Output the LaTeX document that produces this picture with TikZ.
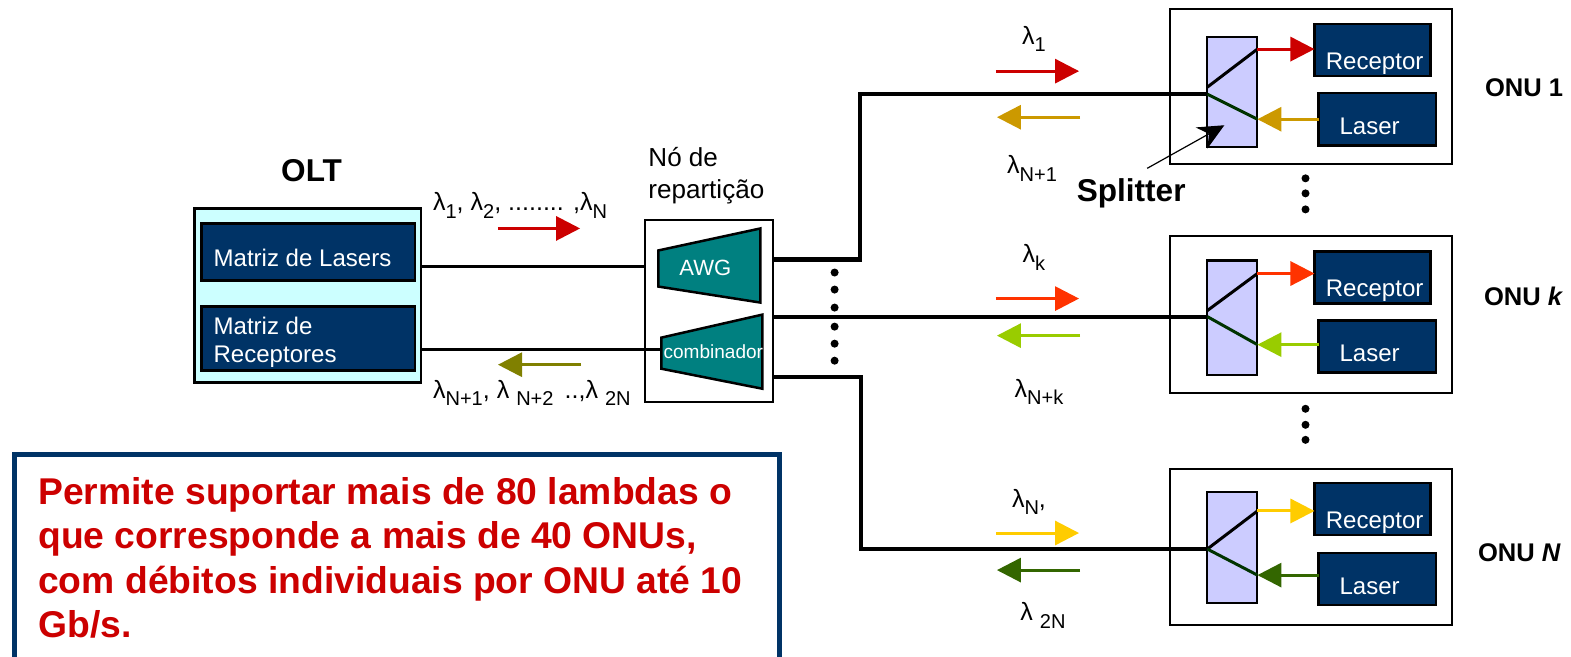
\documentclass[tikz,border=0pt]{standalone}
\usepackage{fontspec}
\setmainfont{Liberation Sans}
\usetikzlibrary{arrows.meta}
\definecolor{navyb}{HTML}{003366}
\definecolor{cyanb}{HTML}{CCFFFF}
\definecolor{tealb}{HTML}{008080}
\definecolor{lilac}{HTML}{CCCCFF}
\definecolor{redw}{HTML}{CC0000}
\definecolor{orangew}{HTML}{FF3300}
\definecolor{yellowg}{HTML}{FFCC00}
\definecolor{gold}{HTML}{CC9900}
\definecolor{lime}{HTML}{99CC00}
\definecolor{greenw}{HTML}{336600}
\definecolor{olive}{HTML}{808000}
\definecolor{darkg}{HTML}{003300}
\newcommand{\fs}[1]{\fontsize{#1}{#1}\selectfont}
\newcommand{\lam}[1]{λ\raisebox{-0.3em}{\fs{20}#1}}
\newcommand{\rectnode}[6]{%
  \pgfmathsetmacro{\rw}{#5-#3}\pgfmathsetmacro{\rh}{#6-#4}%
  \pgfmathsetmacro{\rx}{(#3+#5)/2}\pgfmathsetmacro{\ry}{(#4+#6)/2}%
  \node[#2,minimum width=\rw pt,minimum height=\rh pt] (#1) at (\rx,\ry) {};}
\tikzset{
  x=1pt,y=-1pt,
  plain/.style={draw=black,line width=2pt,inner sep=0pt,outer sep=0pt,rectangle},
  darkbox/.style={plain,fill=navyb,line width=2.5pt},
  whitetxt/.style={text=white,inner sep=0pt,font=\fs{24}},
  blacktxt/.style={text=black,inner sep=0pt,font=\fs{26}},
  boldtxt/.style={text=black,inner sep=0pt,font=\fs{25.5}\bfseries},
  lamtxt/.style={text=black,inner sep=0pt,font=\fs{25}},
  fibre/.style={draw=black,line width=4pt},
  thinfibre/.style={draw=black,line width=3pt},
  wave/.style={line width=3pt,-{Triangle[length=24pt,width=24pt]}},
  trap/.style={draw=black,line width=2.5pt,fill=tealb,line join=miter},
  dot/.style={circle,fill=black,inner sep=0pt,minimum size=8pt},
}
\begin{document}
\begin{tikzpicture}
\useasboundingbox (0,0) rectangle (1568,655);
% OLT
\rectnode{olt}{plain,fill=cyanb,line width=2.5pt}{194}{208}{420}{382}
\rectnode{mlaser}{darkbox}{201}{223}{414}{280}
\rectnode{mrec}{darkbox}{201}{306}{414}{370}
\node[whitetxt,anchor=west] (tlaser) at (213,257) {Matriz de Lasers};
\node[whitetxt,anchor=west,align=left] (trec) at (213,342) {Matriz de\\[4pt]Receptores};
\node[boldtxt,font=\fs{31.5}\bfseries] (toltt) at (311,170) {OLT};
% repartition node
\rectnode{rep}{plain}{644}{220}{772}{401}
\node[blacktxt,anchor=west,align=left] (trep) at (647,175) {Nó de\\[6pt]repartição};
\coordinate (awgL) at (657,266);
\coordinate (combL) at (660,349);
\draw[trap] (657,250) -- (759,228) -- (759,302) -- (657,286) -- cycle;
\draw[trap] (660,337) -- (761,314) -- (761,388) -- (660,368) -- cycle;
\node[text=white,inner sep=0pt,font=\fs{22}] (tawg) at (704,267) {AWG};
\node[text=white,inner sep=0pt,font=\fs{19}] (tcomb) at (712,351) {combinador};
% OLT to repartition
\draw[thinfibre] (olt.east |- 0,266) -- (rep.west |- 0,266);
\draw[thinfibre] (olt.east |- 0,349) -- (combL);
\draw[wave,redw] (497,228) -- (579,228);
\draw[wave,olive] (580,364) -- (497,364);
\node[lamtxt,anchor=west] (tdown) at (432,205) {\lam{1}, \lam{2}, ........ ,\lam{N}};
\node[lamtxt,anchor=west] (tup) at (432,392) {\lam{N+1}, λ \raisebox{-0.3em}{\fs{20}N+2} \,..,λ \raisebox{-0.3em}{\fs{20}2N}};
% ONUs
\foreach \n/\ba/\bb/\sa/\sb/\ra/\la/\fy/\ua/\uq/\da/\ca/\cb/\wa/\wb in {
  1/9/164/37/147/24/93/94/87/49/119/redw/gold/71/117,
  2/236/392/260/374/251/320/316/310/273/344/orangew/lime/298/335,
  3/468/624/491/602/482/552/548/548/510/574/yellowg/greenw/532/569}{
  \rectnode{onu\n}{plain}{1168}{\ba}{1449}{\bb}
  \rectnode{spl\n}{plain,fill=lilac}{1205}{\sa}{1255}{\sb}
  \pgfmathsetmacro{\rb}{\ra+52}\pgfmathsetmacro{\lb}{\la+52}
  \rectnode{rec\n}{darkbox}{1312}{\ra}{1428}{\rb}
  \rectnode{las\n}{darkbox}{1316}{\la}{1433}{\lb}
  \pgfmathsetmacro{\rt}{\ra+39.5}\pgfmathsetmacro{\lt}{\la+33}
  \node[whitetxt] (trec\n) at (1372,\rt) {Receptor};
  \node[whitetxt] (tlas\n) at (1367,\lt) {Laser};
  \draw[line width=3pt,black] (spl\n.west |- 0,\ua) -- (spl\n.east |- 0,\uq);
  \draw[line width=3pt,darkg] (spl\n.west |- 0,\fy) -- (spl\n.east |- 0,\da);
  \draw[wave,\ca] (spl\n.east |- 0,\uq) -- (rec\n.west |- 0,\uq);
  \draw[wave,\cb] (las\n.west |- 0,\da) -- (spl\n.east |- 0,\da);
  \draw[wave,\ca] (994,\wa) -- (1077,\wa);
  \draw[wave,\cb] (1078,\wb) -- (995,\wb);
}
% fibres
\draw[fibre] (rep.east |- 0,259) -- (858,259) -- (858,94) -- (spl1.west |- 0,94);
\draw[fibre] (rep.east |- 0,316) -- (spl2.west |- 0,316);
\draw[fibre] (rep.east |- 0,376) -- (859,376) -- (859,548) -- (spl3.west |- 0,548);
% wavelength labels
\node[lamtxt] (l1) at (1032,39) {\lam{1}};
\node[lamtxt] (l2) at (1030,168) {\lam{N+1}};
\node[lamtxt] (l3) at (1032,257) {\lam{k}};
\node[lamtxt] (l4) at (1037,391) {\lam{N+k}};
\node[lamtxt] (l5) at (1027,501) {\lam{N},};
\node[lamtxt] (l6) at (1041,614) {λ \raisebox{-0.3em}{\fs{20}2N}};
% ONU names
\node[boldtxt,anchor=west] (o1) at (1482,88) {ONU 1};
\node[boldtxt,anchor=west] (o2) at (1481,296) {ONU \textit{k}};
\node[boldtxt,anchor=west] (o3) at (1475,552) {ONU \textit{N}};
% splitter label
\node[boldtxt,font=\fs{31.5}\bfseries] (tspl) at (1129,193) {Splitter};
\coordinate (splA) at (1145,168);
\coordinate (splB) at (1222,125);
\draw[black,line width=1.2pt,-{Stealth[length=26pt,width=24pt]}] (splA) -- (splB);
% dots
\foreach \y [count=\i] in {272,289,307,326,343,360}{\node[dot] (da\i) at (833,\y) {};}
\foreach \y [count=\i] in {178,193,209,408,424,439}{\node[dot] (db\i) at (1303,\y) {};}
% text panel
\draw[navyb,line width=5pt] (14,660) -- (14,454) -- (778,454) -- (778,660);
\node[anchor=north west,align=left,inner sep=0pt,text=redw,font=\fs{37.2}\bfseries] (panel) at (38,476) {Permite suportar mais de 80 lambdas o\\[7.3pt]que corresponde a mais de 40 ONUs,\\[7.3pt]com débitos individuais por ONU até 10\\[7.3pt]Gb/s.};
\end{tikzpicture}
\end{document}
